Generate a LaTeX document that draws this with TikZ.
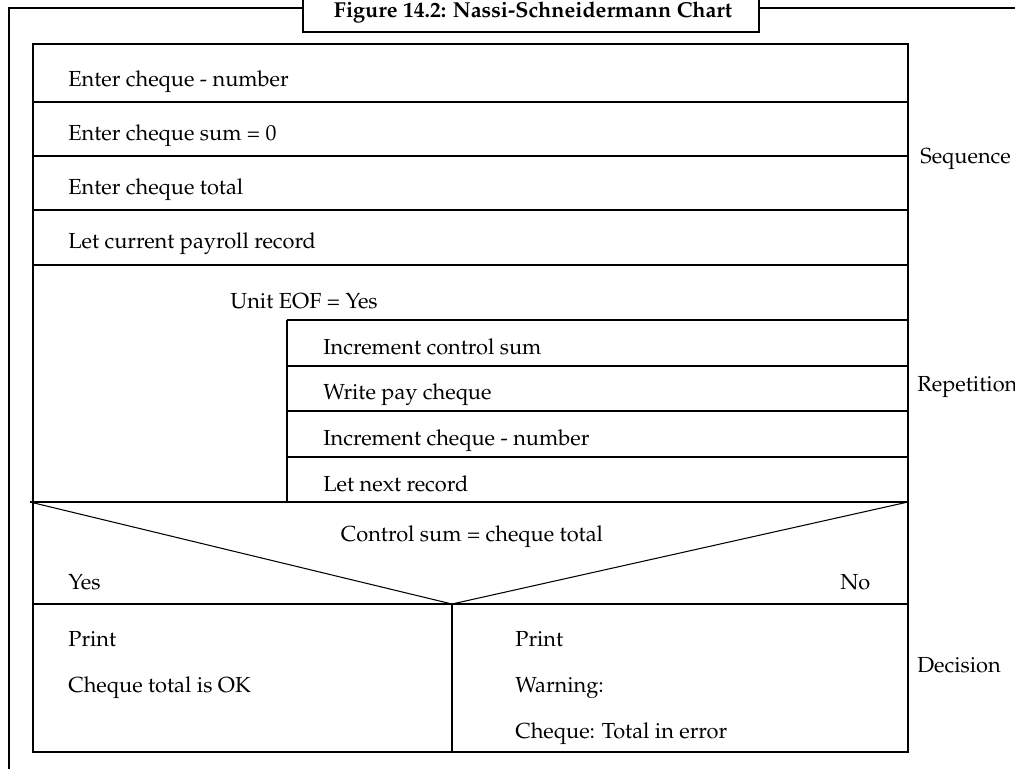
\documentclass[tikz,border=0pt]{standalone}
\usepackage[T1]{fontenc}
\usepackage{mathpazo}
\begin{document}
\begin{tikzpicture}[x=0.02cm, y=-0.02cm,
  frame/.style={line width=1.3pt},
  cell/.style={line width=0.6pt},
  seqline/.style={line width=1.1pt},
  txt/.style={anchor=mid west, inner sep=0pt, font=\fontsize{12.4}{14}\selectfont},
  titlebox/.style={draw, line width=1.3pt, fill=white}
]
  \useasboundingbox (0,0) rectangle (1015,769);

  \draw[frame] (9,769) -- (9,8) -- (1015,8);
  \draw[titlebox] (303,-10) rectangle (759,32);
  \node[inner sep=0pt, anchor=base, font=\fontsize{12.3}{14}\selectfont\bfseries] (ttl) at (533,17) {Figure 14.2: Nassi-Schneidermann Chart};

  \draw[cell] (33,44) rectangle (908,752);
  \foreach \y in {102,156,210,265}
    \draw[seqline] (33,\y) -- (908,\y);

  \node[txt] (s1) at (68,82) {Enter cheque - number};
  \node[txt] (s2) at (68,136) {Enter cheque sum = 0};
  \node[txt] (s3) at (68,190) {Enter cheque total};
  \node[txt] (s4) at (68,244) {Let current payroll record};

  \node[txt] (loop) at (230,304) {Unit EOF = Yes};
  \draw[cell] (287,320) -- (287,502);
  \foreach \y in {320,366,411,457}
    \draw[cell] (287,\y) -- (908,\y);
  \node[txt] (r1) at (323,350) {Increment control sum};
  \node[txt] (r2) at (323,395) {Write pay cheque};
  \node[txt] (r3) at (323,441) {Increment cheque - number};
  \node[txt] (r4) at (323,487) {Let next record};

  \draw[cell] (30,502) -- (908,502);
  \draw[cell] (30,502) -- (452,604) -- (908,502);
  \draw[cell] (33,604) -- (908,604);
  \draw[cell] (452,604) -- (452,752);
  \node[txt, anchor=mid] (cond) at (472,537) {Control sum = cheque total};
  \node[txt] (yes) at (68,585) {Yes};
  \node[txt] (no) at (840,585) {No};

  \node[txt] (y1) at (68,642) {Print};
  \node[txt] (y2) at (68,688) {Cheque total is OK};
  \node[txt] (n1) at (515,642) {Print};
  \node[txt] (n2) at (515,688) {Warning:};
  \node[txt] (n3) at (515,734) {Cheque: Total in error};

  \node[txt] (seq) at (920,159) {Sequence};
  \node[txt] (rep) at (917,387) {Repetition};
  \node[txt] (dec) at (917,668) {Decision};
\end{tikzpicture}
\end{document}
